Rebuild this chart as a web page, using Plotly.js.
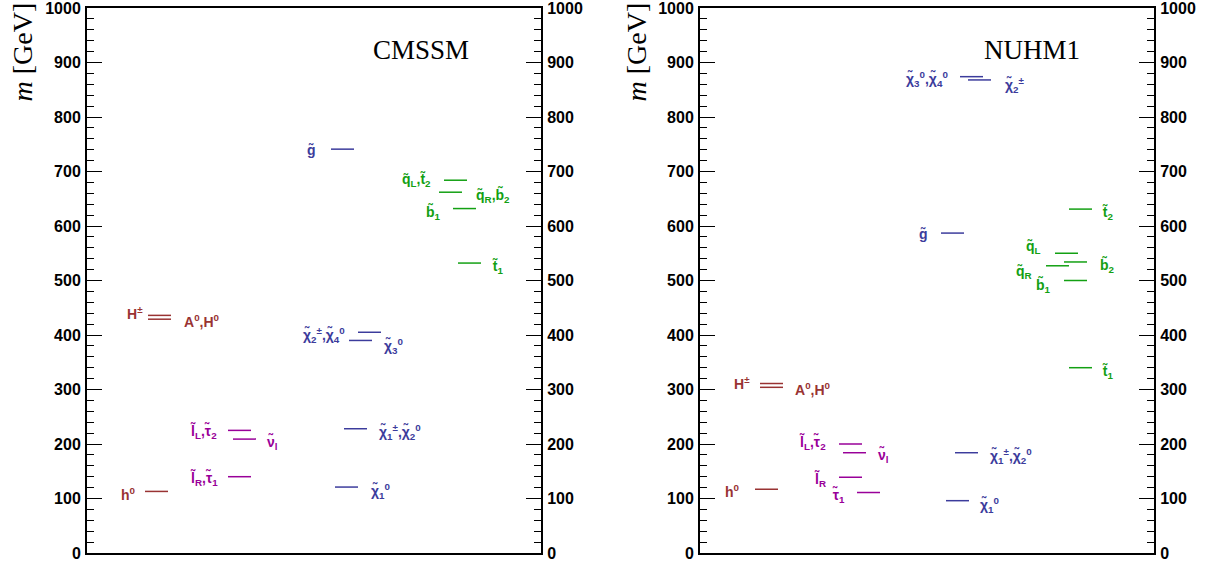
<!DOCTYPE html>
<html>
<head>
<meta charset="utf-8">
<script src="https://cdn.plot.ly/plotly-3.0.1.min.js"></script>
<style>html,body{margin:0;padding:0;background:#fff;}#chart{width:1209px;height:565px;}</style>
</head>
<body>
<div id="chart"></div>
<script>
// ---------------- DATA ----------------
const panelTitles = ['CMSSM', 'NUHM1'];
const yTickVals = [0, 100, 200, 300, 400, 500, 600, 700, 800, 900, 1000];
const yTickText = ['0', '100', '200', '300', '400', '500', '600', '700', '800', '900', '1000'];

// CMSSM spectrum (GeV)
const cmssmNames = ['h0', 'Hpm', 'A0H0', 'lL_tau2', 'nul', 'lR_tau1', 'chi10', 'chi1pm_chi20', 'chi30', 'chi2pm_chi40', 'gluino', 'qL_t2', 'qR_b2', 'b1', 't1'];
const cmssmMass  = [113, 436, 429, 225, 209, 140, 121, 228, 390, 405, 741, 684, 662, 632, 532];
const cmssmLabels = ['h<sup>0</sup>', 'H<sup>±</sup>', 'A<sup>0</sup>,H<sup>0</sup>',
  'l̃<sub>L</sub>,τ̃<sub>2</sub>', 'ν̃<sub>l</sub>', 'l̃<sub>R</sub>,τ̃<sub>1</sub>',
  'χ̃<sub>1</sub><sup>0</sup>', 'χ̃<sub>1</sub><sup>±</sup>,χ̃<sub>2</sub><sup>0</sup>', 'χ̃<sub>3</sub><sup>0</sup>',
  'χ̃<sub>2</sub><sup>±</sup>,χ̃<sub>4</sub><sup>0</sup>', 'g̃',
  'q̃<sub>L</sub>,t̃<sub>2</sub>', 'q̃<sub>R</sub>,b̃<sub>2</sub>', 'b̃<sub>1</sub>', 't̃<sub>1</sub>'];
const cmssmGroup = ['higgs', 'higgs', 'higgs', 'slepton', 'slepton', 'slepton', 'gaugino', 'gaugino', 'gaugino', 'gaugino', 'gaugino', 'squark', 'squark', 'squark', 'squark'];

// NUHM1 spectrum (GeV)
const nuhmNames = ['h0', 'Hpm', 'A0H0', 'lL_tau2', 'nul', 'lR', 'tau1', 'chi10', 'chi1pm_chi20', 'chi30_chi40', 'chi2pm', 'gluino', 't2', 'qL', 'b2', 'qR', 'b1', 't1'];
const nuhmMass  = [117, 311, 304, 200, 184, 139, 111, 96, 184, 874, 868, 587, 631, 550, 534, 527, 500, 340];
const nuhmLabels = ['h<sup>0</sup>', 'H<sup>±</sup>', 'A<sup>0</sup>,H<sup>0</sup>',
  'l̃<sub>L</sub>,τ̃<sub>2</sub>', 'ν̃<sub>l</sub>', 'l̃<sub>R</sub>', 'τ̃<sub>1</sub>',
  'χ̃<sub>1</sub><sup>0</sup>', 'χ̃<sub>1</sub><sup>±</sup>,χ̃<sub>2</sub><sup>0</sup>',
  'χ̃<sub>3</sub><sup>0</sup>,χ̃<sub>4</sub><sup>0</sup>', 'χ̃<sub>2</sub><sup>±</sup>', 'g̃',
  't̃<sub>2</sub>', 'q̃<sub>L</sub>', 'b̃<sub>2</sub>', 'q̃<sub>R</sub>', 'b̃<sub>1</sub>', 't̃<sub>1</sub>'];
const nuhmGroup = ['higgs', 'higgs', 'higgs', 'slepton', 'slepton', 'slepton', 'slepton', 'gaugino', 'gaugino', 'gaugino', 'gaugino', 'gaugino', 'squark', 'squark', 'squark', 'squark', 'squark', 'squark'];

// ---------------- PLACEMENT / STYLE (not data) ----------------
const groupColor = { higgs: '#993333', slepton: '#990099', gaugino: '#3c3c9c', squark: '#13a013' };
const segLen = 23;
// [segment start, label x, label side, label yshift] in panel x-units
const cmssmPlace = {
  h0: [58, 51, 'right', -3], Hpm: [61, 58, 'right', 2], A0H0: [61, 95, 'left', -2],
  lL_tau2: [141, 132, 'right', -1], nul: [146, 178, 'left', -3], lR_tau1: [141, 133, 'right', -2],
  chi10: [248, 282, 'left', -4], chi1pm_chi20: [257, 290, 'left', -3], chi30: [262, 295, 'left', -6],
  chi2pm_chi40: [271, 260, 'right', -3], gluino: [244, 231, 'right', -1],
  qL_t2: [357, 346, 'right', 0], qR_b2: [352, 387, 'left', -3], b1: [366, 356, 'right', -4], t1: [371, 403, 'left', -4]
};
const nuhmPlace = {
  h0: [55, 42, 'right', -2], Hpm: [60, 52, 'right', 1], A0H0: [60, 93, 'left', -2],
  lL_tau2: [139, 128, 'right', 2], nul: [143, 176, 'left', -3], lR: [139, 128, 'right', -2], tau1: [157, 147, 'right', -3],
  chi10: [246, 278, 'left', -4], chi1pm_chi20: [255, 288, 'left', -3], chi30_chi40: [260, 250, 'right', -2], chi2pm: [268, 303, 'left', -5],
  gluino: [241, 230, 'right', -1], t2: [369, 400, 'left', -4], qL: [355, 343, 'right', 6], b2: [364, 398, 'left', -4],
  qR: [346, 334, 'right', -6], b1: [364, 353, 'right', -5], t1: [369, 400, 'left', -4]
};

const W = 1209, H = 565;
const panelPx = [[87, 541], [700, 1154]];
const yTopPx = 8, yBotPx = 553;
const panelWidth = 454;

function buildPanel(names, mass, labels, group, place, xa, ya) {
  const traces = [];
  const anns = [];
  const groups = ['higgs', 'slepton', 'gaugino', 'squark'];
  groups.forEach(g => {
    const xs = [], ys = [];
    names.forEach((n, i) => {
      if (group[i] !== g) return;
      const p = place[n];
      xs.push(p[0], p[0] + segLen, null);
      ys.push(mass[i], mass[i], null);
    });
    traces.push({ x: xs, y: ys, xaxis: xa, yaxis: ya, mode: 'lines', type: 'scatter',
      line: { color: groupColor[g], width: 1.5 }, hoverinfo: 'skip', showlegend: false });
  });
  names.forEach((n, i) => {
    const p = place[n];
    anns.push({ x: p[1], y: mass[i], xref: xa, yref: ya, text: labels[i], showarrow: false,
      xanchor: p[2], yanchor: 'middle', yshift: p[3],
      font: { family: 'Liberation Sans, Arial, sans-serif', size: 14, color: groupColor[group[i]], weight: 'bold' } });
  });
  return { traces, anns };
}

const p1 = buildPanel(cmssmNames, cmssmMass, cmssmLabels, cmssmGroup, cmssmPlace, 'x', 'y');
const p2 = buildPanel(nuhmNames, nuhmMass, nuhmLabels, nuhmGroup, nuhmPlace, 'x2', 'y3');

const dummy = [
  { x: [0], y: [0], xaxis: 'x', yaxis: 'y2', mode: 'markers', marker: { opacity: 0 }, hoverinfo: 'skip', showlegend: false },
  { x: [0], y: [0], xaxis: 'x2', yaxis: 'y4', mode: 'markers', marker: { opacity: 0 }, hoverinfo: 'skip', showlegend: false }
];

const tickFont = { family: 'Liberation Sans, Arial, sans-serif', size: 16, color: '#000', weight: 'bold' };
const yDom = [(H - yBotPx) / H, (H - yTopPx) / H];
function yAxis(extra) {
  return Object.assign({
    range: [0, 1000], domain: yDom, tickmode: 'array', tickvals: yTickVals, ticktext: yTickText,
    ticks: 'inside', ticklen: 15, tickwidth: 1, tickcolor: '#000',
    minor: { dtick: 20, tick0: 0, ticks: 'inside', ticklen: 7, tickwidth: 1, tickcolor: '#000', showgrid: false },
    showline: true, linewidth: 2, linecolor: '#000', showgrid: false, zeroline: false,
    tickfont: tickFont, ticklabelstandoff: 1, ticklabeloverflow: 'allow', fixedrange: true
  }, extra);
}
function xAxis(dom) {
  return { domain: dom, range: [0, panelWidth], showline: true, linewidth: 2, linecolor: '#000', mirror: true,
    ticks: '', showticklabels: false, showgrid: false, zeroline: false, fixedrange: true };
}

const titleFont = { family: 'Liberation Serif, Times New Roman, serif', size: 27, color: '#000' };
const axTitleFont = { family: 'Liberation Serif, Times New Roman, serif', size: 28, color: '#000' };

const annotations = p1.anns.concat(p2.anns).concat([
  { text: panelTitles[0], x: 421 / W, y: 1 - 50 / H, xref: 'paper', yref: 'paper', showarrow: false,
    xanchor: 'center', yanchor: 'middle', font: titleFont },
  { text: panelTitles[1], x: 1032 / W, y: 1 - 50 / H, xref: 'paper', yref: 'paper', showarrow: false,
    xanchor: 'center', yanchor: 'middle', font: titleFont },
  { text: '<i>m</i> [GeV]', x: 22 / W, y: 1 - 104 / H, xref: 'paper', yref: 'paper', showarrow: false,
    textangle: -90, xanchor: 'center', yanchor: 'bottom', font: axTitleFont },
  { text: '<i>m</i> [GeV]', x: 636 / W, y: 1 - 104 / H, xref: 'paper', yref: 'paper', showarrow: false,
    textangle: -90, xanchor: 'center', yanchor: 'bottom', font: axTitleFont }
]);

const layout = {
  width: W, height: H, margin: { l: 0, r: 0, t: 0, b: 0 },
  paper_bgcolor: '#fff', plot_bgcolor: 'rgba(0,0,0,0)', showlegend: false,
  xaxis: xAxis([panelPx[0][0] / W, panelPx[0][1] / W]),
  xaxis2: xAxis([panelPx[1][0] / W, panelPx[1][1] / W]),
  yaxis: yAxis({ anchor: 'x', side: 'left' }),
  yaxis2: yAxis({ anchor: 'x', side: 'right', overlaying: 'y' }),
  yaxis3: yAxis({ anchor: 'x2', side: 'left' }),
  yaxis4: yAxis({ anchor: 'x2', side: 'right', overlaying: 'y3' }),
  annotations: annotations
};

Plotly.newPlot('chart', p1.traces.concat(p2.traces).concat(dummy), layout, { staticPlot: true, displayModeBar: false });
</script>
</body>
</html>
